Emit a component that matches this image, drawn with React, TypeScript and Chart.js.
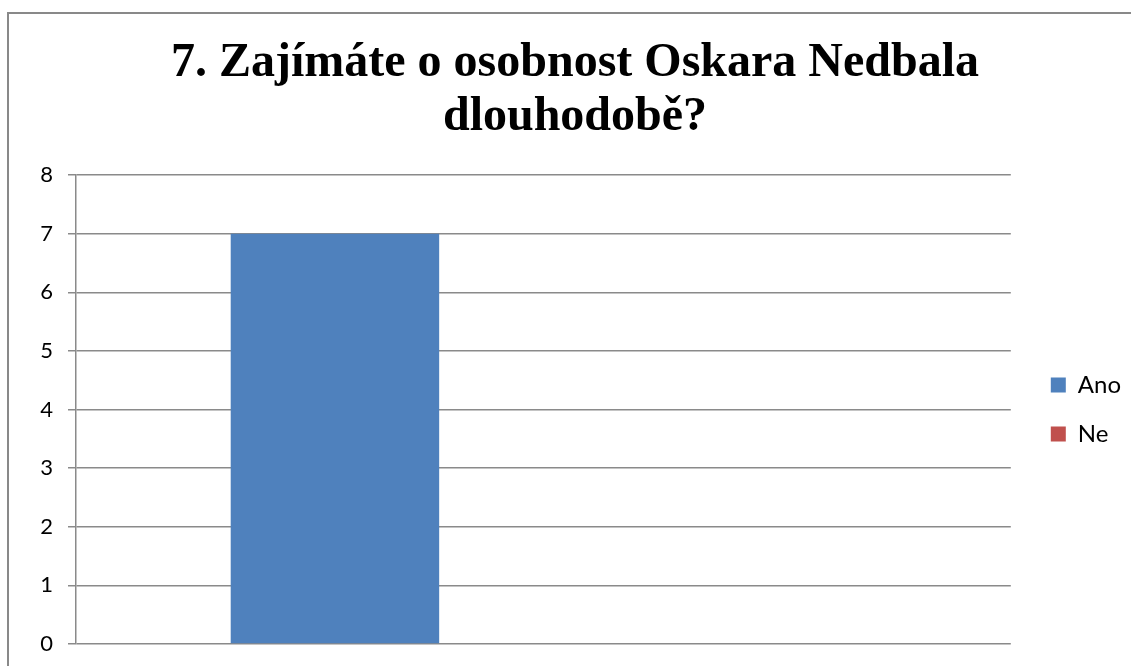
import React, { useEffect, useRef } from "react";
import { Chart, registerables } from "chart.js";

Chart.register(...registerables);

const titleLines = ["7. Zajímáte o osobnost Oskara Nedbala", "dlouhodobě?"];
const categories = [""];
const seriesNames = ["Ano", "Ne", ""];
const seriesColors = ["#4F81BD", "#C0504D", "#9BBB59"];
const anoValues = [7];
const neValues = [0];
const blankValues = [0];
const yTicks = [0, 1, 2, 3, 4, 5, 6, 7, 8];

const GRID = "#8a8a8a";

export default function App() {
  const ref = useRef<HTMLCanvasElement | null>(null);

  useEffect(() => {
    if (!ref.current) return;
    const values = [anoValues, neValues, blankValues];
    const chart = new Chart(ref.current, {
      type: "bar",
      data: {
        labels: categories,
        datasets: seriesNames.map((name, i) => ({
          label: name,
          data: values[i],
          backgroundColor: seriesColors[i],
          borderWidth: 0,
          yAxisID: "y",
          categoryPercentage: 0.669,
          barPercentage: 1,
        })),
      },
      options: {
        responsive: false,
        animation: false,
        devicePixelRatio: 1,
        layout: { padding: { left: 10, right: 10, top: 0, bottom: 70 } },
        plugins: {
          title: {
            display: true,
            text: titleLines,
            color: "#000",
            font: { family: "'Liberation Serif', 'Times New Roman', serif", size: 48, weight: "bold", lineHeight: 1.115 },
            padding: { top: 23, bottom: 31 },
          },
          legend: {
            display: true,
            position: "right",
            fullSize: false,
            align: "center",
            labels: {
              boxWidth: 15,
              boxHeight: 15,
              padding: 25,
              color: "#000",
              font: { family: "Lato, 'Open Sans', sans-serif", size: 24 },
              filter: (item: any) => item.text !== "",
            },
          },
          tooltip: { enabled: false },
        },
        scales: {
          y: {
            position: "left",
            min: 0,
            max: 8,
            afterBuildTicks: (s: any) => {
              s.ticks = yTicks.map((v) => ({ value: v }));
            },
            afterFit: (s: any) => {
              s.width = 57;
            },
            grid: { color: GRID, lineWidth: 1.5, tickLength: 8, drawTicks: true },
            border: { display: true, color: GRID, width: 1.5 },
            ticks: {
              color: "#000",
              padding: 15,
              font: { family: "Lato, 'Open Sans', sans-serif", size: 22 },
            },
          },
          x: {
            display: false,
            grid: { display: false },
          },
          pad: {
            type: "linear",
            position: "right",
            display: true,
            grid: { display: false, drawTicks: false },
            border: { display: false },
            ticks: { display: false },
            afterFit: (s: any) => {
              s.width = 15;
            },
          },
        },
      } as any,
    });
    return () => chart.destroy();
  }, []);

  return (
    <div style={{ position: "fixed", left: 0, top: 0, width: 1131, height: 666, overflow: "hidden", background: "#fff" }}>
      <div
        style={{
          position: "absolute",
          left: 7,
          top: 12,
          width: 1136,
          height: 720,
          border: "2px solid #898989",
          boxSizing: "border-box",
          background: "#fff",
        }}
      >
        <canvas ref={ref} width={1132} height={700} style={{ display: "block", width: 1132, height: 700 }} />
      </div>
    </div>
  );
}
